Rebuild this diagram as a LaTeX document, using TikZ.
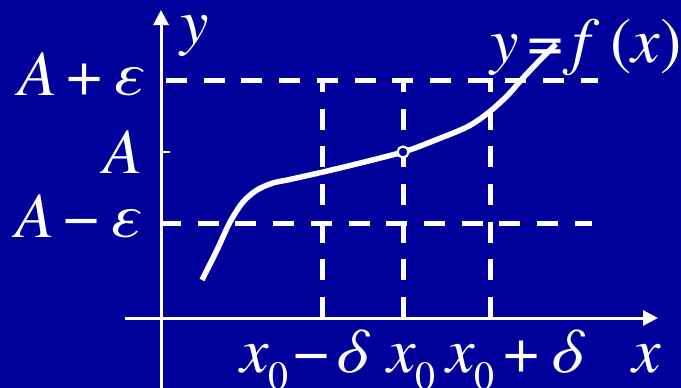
\documentclass[tikz,border=0pt]{standalone}
\usepackage{fontspec}
\setmainfont{texgyretermes}[Extension=.otf, UprightFont=*-regular, ItalicFont=*-italic, BoldFont=*-bold]
\usetikzlibrary{arrows.meta}
\definecolor{bg}{RGB}{0,0,155}
\newcommand\zsub[1]{\raisebox{-17pt}{\fontsize{40}{44}\selectfont #1}}
\newcommand\gap{\hspace{0.14em}}
\newcommand\sgap{\hspace{0.07em}}
\begin{document}
\begin{tikzpicture}[x=1pt,y=-1pt,
  lbl/.style={inner sep=0pt, anchor=base west, text=white, font=\fontsize{64}{70}\selectfont},
  axis/.style={white, line width=3pt, -{Triangle[length=15pt,width=15pt]}},
  guide/.style={white, line width=5pt, dash pattern=on 21pt off 16.7pt},
  curve/.style={white, line width=5.5pt}]
\fill[bg] (0,0) rectangle (681,388);
\useasboundingbox (0,0) rectangle (681,388);
% points
\coordinate (ybot) at (161,388);
\coordinate (ytop) at (161,10);
\coordinate (xl) at (125,318);
\coordinate (xr) at (658,318);
\coordinate (hu1) at (166,80);
\coordinate (hu2) at (598,80);
\coordinate (hl1) at (160,223);
\coordinate (hl2) at (592,223);
\coordinate (v1b) at (322,318);
\coordinate (v1t) at (322,78);
\coordinate (v2b) at (403,318);
\coordinate (v2t) at (403,78);
\coordinate (v3b) at (490,318);
\coordinate (v3t) at (490,78);
\coordinate (tk1) at (161,152);
\coordinate (tk2) at (170,152);
% guides
\draw[guide] (hu1) -- (hu2);
\draw[guide] (hl1) -- (hl2);
\draw[guide] (v1b) -- (v1t);
\draw[guide] (v2b) -- (v2t);
\draw[guide] (v3b) -- (v3t);
% axes
\draw[axis] (xl) -- (xr);
\draw[axis] (ybot) -- (ytop);
\draw[white, line width=1.5pt] (tk1) -- (tk2);
% curve
\draw[curve, line cap=butt] plot[smooth, tension=0.5] coordinates
  {(202,280) (217,250) (230,222) (243,202) (257,190) (273,183) (292,179) (340,168) (403,152) (433,141) (467,127) (488,113) (507,96) (523,78) (540,60) (556,44)};
\node[circle, draw=white, fill=bg, line width=2.2pt, minimum size=11pt, inner sep=0pt] (hole) at (403,152) {};
% labels
\node[lbl] (lape) at (18,95) {\textit{A}\gap+\gap\textit{ε}};
\node[lbl] (la) at (103,173) {\textit{A}};
\node[lbl] (lame) at (15,237) {\textit{A}\gap−\gap\textit{ε}};
\node[lbl] (ly) at (180,43) {\textit{y}};
\node[lbl] (lfx) at (490,62) {\textit{y}\gap=\gap\textit{f}\,(\textit{x})};
\node[lbl] (lx) at (632,372) {\textit{x}};
\node[lbl] (lxm) at (240,372) {\textit{x}\zsub{0}\sgap−\sgap\textit{δ}};
\node[lbl] (lx0) at (387,372) {\textit{x}\zsub{0}};
\node[lbl] (lxp) at (446,372) {\textit{x}\zsub{0}\gap+\gap\textit{δ}};
\end{tikzpicture}
\end{document}
